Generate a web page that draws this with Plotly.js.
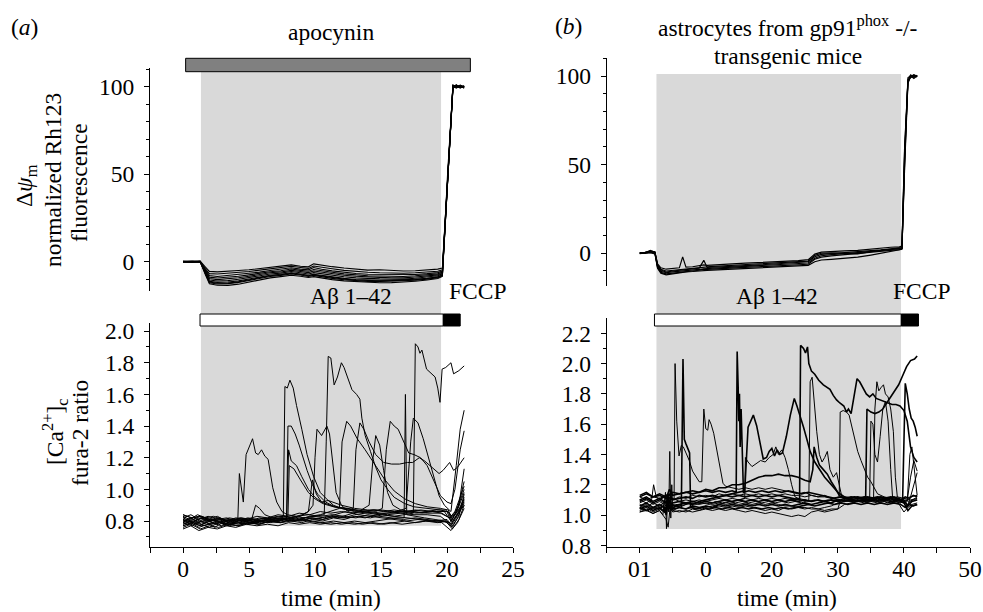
<!DOCTYPE html>
<html>
<head>
<meta charset="utf-8">
<script src="https://cdn.plot.ly/plotly-3.0.1.min.js"></script>
<style>html,body{margin:0;padding:0;background:#fff;}#chart{width:983px;height:612px;}</style>
</head>
<body>
<div id="chart"></div>
<script>
// ---------- DATA ----------
// (a) apocynin: Rh123 (delta psi m), shared time grid (min)
const tApoRh = [0, 0.7, 1.3, 1.7, 2.0, 2.6, 3.4, 4.2, 5.0, 5.8, 6.6, 7.4, 8.2, 8.9, 9.5, 9.9, 10.5, 11.3, 12.2, 13.1, 14.0, 14.9, 15.8, 16.7, 17.6, 18.5, 19.3, 19.65, 20.05, 20.45, 20.7, 21.0, 21.3];
const rhApo1 = [0.3, 0.2, 0.4, -3, -5.5, -5.8, -5.2, -5.0, -4.6, -4.0, -3.4, -2.8, -1.8, -2.6, -2.9, -1.2, -2.0, -2.8, -3.6, -4.2, -4.8, -4.6, -5.0, -5.3, -5.1, -4.7, -4.2, -3.6, 48, 99.5, 100.6, 99.4, 100.2];
const rhApo2 = [0.1, 0.0, 0.2, -4, -6.8, -7.0, -6.6, -6.2, -5.6, -4.8, -4.2, -3.6, -2.6, -3.3, -3.8, -2.4, -3.2, -4.0, -4.9, -5.6, -6.0, -6.3, -6.5, -6.6, -6.3, -5.9, -5.4, -4.6, 46, 100.8, 99.6, 100.9, 99.8];
const rhApo3 = [0, -0.2, 0.1, -4.6, -7.9, -8.4, -7.8, -7.4, -6.8, -5.9, -5.0, -4.4, -3.4, -4.2, -4.6, -3.3, -4.3, -5.2, -6.0, -6.7, -7.1, -7.2, -7.4, -7.6, -7.3, -6.8, -6.2, -5.3, 50, 99.0, 101.2, 99.6, 100.4];
const rhApo4 = [-0.1, 0.1, 0.0, -5, -8.8, -9.3, -8.9, -8.3, -7.5, -6.4, -5.7, -5.1, -4.1, -4.9, -5.4, -4.4, -5.2, -6.0, -6.9, -7.5, -8.0, -8.1, -8.3, -8.4, -8.0, -7.5, -6.9, -5.9, 44, 100.2, 99.2, 100.5, 99.1];
const rhApo5 = [0.2, -0.1, 0.3, -5.5, -9.6, -10.2, -9.8, -9.1, -8.3, -7.1, -6.3, -5.8, -4.9, -5.6, -6.2, -5.3, -6.0, -6.9, -7.7, -8.3, -8.8, -8.9, -9.1, -9.2, -8.7, -8.2, -7.5, -6.4, 49, 101.0, 100.3, 99.7, 100.6];
const rhApo6 = [0, 0.2, -0.1, -6, -10.4, -11.0, -10.8, -10.0, -9.0, -7.9, -7.0, -6.5, -5.6, -6.3, -7.0, -6.2, -6.9, -7.8, -8.6, -9.2, -9.6, -9.8, -9.9, -9.9, -9.4, -8.8, -8.0, -6.9, 47, 99.3, 100.7, 100.1, 99.5];
const rhApo7 = [-0.2, 0, 0.1, -6.4, -11.2, -11.8, -11.6, -10.9, -9.8, -8.6, -7.7, -7.1, -6.3, -7.0, -7.7, -7.1, -7.8, -8.7, -9.5, -10.1, -10.5, -10.6, -10.6, -10.5, -10.0, -9.4, -8.6, -7.4, 45, 100.4, 99.8, 100.8, 100.0];
const rhApo8 = [0.1, -0.1, 0.2, -7, -12.0, -12.7, -12.5, -11.8, -10.6, -9.4, -8.4, -7.8, -7.0, -7.6, -8.4, -7.8, -8.6, -9.5, -10.3, -10.8, -11.2, -11.3, -11.2, -11.0, -10.6, -9.9, -9.1, -7.8, 51, 99.7, 100.2, 99.3, 100.3];
const rhApo9 = [0, 0.1, 0, -7.5, -12.6, -13.4, -13.5, -12.8, -11.6, -10.2, -9.2, -8.5, -7.7, -8.3, -9.0, -8.5, -9.3, -10.2, -10.9, -11.4, -11.8, -12.0, -11.9, -11.6, -11.1, -10.4, -9.6, -8.3, 46, 100.6, 99.5, 100.4, 99.6];
const rhApo10 = [0.2, 0.1, 0.1, -6.8, -11.6, -12.3, -12.2, -11.5, -10.3, -9.0, -8.0, -7.4, -6.6, -7.3, -8.0, -7.4, -8.1, -9.0, -9.9, -10.4, -10.8, -10.9, -10.8, -10.7, -10.2, -9.6, -8.8, -7.6, 48, 100.1, 100.9, 99.9, 100.0];

// (b) gp91phox -/- : Rh123, shared time grid (min)
const tKoRh = [0, 0.8, 1.6, 2.3, 2.7, 3.2, 4.0, 5.0, 6.0, 6.5, 7.0, 8.0, 9.0, 9.7, 10.2, 11, 12, 14, 16, 18, 20, 22, 24, 25.5, 26.5, 27.5, 29, 31, 33, 35, 36.5, 38, 39.3, 39.7, 40.1, 40.6, 41.0, 41.5, 42.0];
const rhKo1 = [0.3, 0.5, 1.2, 0.8, -6, -8.2, -9.0, -8.6, -8.2, -2.0, -7.8, -7.6, -7.2, -6.5, -6.8, -6.7, -6.4, -6.0, -5.6, -5.3, -4.8, -4.5, -4.2, -3.6, -0.5, 0.6, 1.0, 1.3, 1.6, 2.4, 3.0, 3.4, 3.6, 4.0, 60, 97, 99.6, 100.8, 99.8];
const rhKo2 = [0, 0.2, 0.8, 0.3, -7, -9.5, -10.6, -10.0, -9.6, -9.4, -9.2, -8.9, -8.4, -4.0, -8.0, -7.9, -7.8, -7.4, -7.0, -6.6, -6.2, -5.8, -5.4, -4.8, -2.0, -0.6, -0.2, 0.3, 0.9, 1.4, 1.9, 2.5, 2.9, 3.2, 55, 96, 100.3, 99.2, 100.4];
const rhKo3 = [-0.2, 0.0, 0.5, 0.0, -8, -10.8, -11.6, -11.2, -10.7, -10.4, -10.2, -10.0, -9.6, -9.0, -9.1, -9.0, -8.8, -8.4, -8.0, -7.6, -7.2, -6.9, -6.6, -6.2, -3.4, -2.2, -1.5, -0.9, -0.2, 0.4, 1.0, 1.6, 2.1, 2.6, 50, 98, 99.0, 100.2, 99.5];
const rhKo4 = [0.4, 0.3, 1.6, 0.6, -6.5, -9.0, -10.0, -9.6, -9.1, -8.8, -8.6, -8.4, -8.0, -7.6, -7.5, -7.4, -7.2, -6.8, -6.4, -6.0, -5.6, -5.2, -4.9, -4.4, -1.2, 0.0, 0.2, -0.1, -0.3, 0.9, 1.6, 2.2, 2.6, 3.0, 58, 97, 100.6, 99.8, 100.1];
const rhKo5 = [0.1, -0.1, 0.4, -0.3, -8.5, -11.2, -12.2, -11.6, -11.0, -10.7, -10.5, -10.3, -9.9, -9.5, -9.6, -9.5, -9.3, -9.0, -8.6, -8.2, -7.8, -7.5, -7.2, -6.8, -4.8, -3.8, -3.4, -3.0, -2.2, -1.0, 0.0, 0.8, 1.6, 2.2, 52, 99, 100.1, 98.6, 100.2];
const rhKo6 = [0, 0.4, 0.9, 0.5, -7.5, -10.2, -11.0, -10.5, -10.1, -9.9, -9.7, -9.5, -9.2, -8.6, -8.6, -8.4, -8.2, -7.8, -7.5, -7.1, -6.7, -6.4, -6.1, -5.5, -2.8, -1.4, -0.8, -0.4, 0.4, 1.1, 1.5, 2.0, 2.4, 2.7, 48, 96, 99.4, 100.5, 99.9];

// (a) apocynin: [Ca2+]c fura-2 ratio, [time, ratio]
const caApoA = [[0,0.80],[0.6,0.82],[1.2,0.79],[1.8,0.81],[2.5,0.78],[3.1,0.80],[3.8,0.79],[4.5,0.81],[5.3,0.80],[6.1,0.82],[7.0,0.81],[7.9,0.82],[8.8,0.80],[9.7,0.82],[10.6,0.81],[11.5,0.83],[12.4,0.82],[13.3,0.83],[14.2,0.82],[15.1,0.84],[16.0,0.83],[16.9,0.84],[17.45,0.85],[17.6,1.92],[17.8,1.90],[17.95,1.86],[18.1,1.88],[18.45,1.76],[18.8,1.73],[19.1,1.71],[19.3,1.64],[19.47,1.55],[19.63,1.76],[19.9,1.77],[20.3,1.80],[20.5,1.73],[20.9,1.75],[21.3,1.78]];
const caApoB = [[0,0.83],[0.5,0.81],[1.1,0.84],[1.7,0.82],[2.3,0.83],[3.0,0.81],[3.7,0.80],[4.4,0.82],[5.2,0.81],[6.0,0.80],[6.8,0.82],[7.6,0.81],[8.4,0.83],[9.2,0.82],[10.0,0.83],[10.7,0.84],[10.85,1.30],[11.0,1.84],[11.2,1.83],[11.45,1.66],[11.7,1.71],[12.0,1.80],[12.2,1.77],[12.5,1.70],[12.8,1.63],[13.15,1.60],[13.4,1.57],[13.55,1.45],[13.8,1.34],[14.2,1.24],[14.6,1.14],[15.0,1.06],[15.5,1.00],[16.0,0.95],[16.8,0.91],[17.5,0.89],[18.5,0.88],[19.5,0.87],[20.0,0.86],[20.3,0.80],[20.7,0.85],[21.3,0.98]];
const caApoC = [[0,0.78],[0.6,0.80],[1.2,0.77],[1.8,0.79],[2.4,0.76],[3.0,0.79],[3.6,0.78],[4.15,0.80],[4.27,1.10],[4.4,1.01],[4.57,0.92],[4.78,1.22],[5.0,1.27],[5.27,1.32],[5.5,1.23],[5.7,1.22],[5.95,1.25],[6.2,1.21],[6.45,1.19],[6.8,1.01],[7.1,0.92],[7.5,0.86],[7.9,0.84],[8.6,0.83],[9.5,0.84],[10.4,0.83],[11.3,0.84],[12.2,0.83],[13.1,0.82],[14.0,0.84],[14.9,0.83],[15.8,0.82],[16.7,0.81],[17.6,0.82],[18.5,0.81],[19.4,0.80],[20.2,0.79],[20.6,0.82],[21.3,0.90]];
const caApoC2 = [[0,0.81],[0.7,0.79],[1.3,0.82],[2.0,0.80],[2.7,0.82],[3.4,0.79],[4.1,0.81],[4.8,0.80],[5.2,0.81],[5.5,0.90],[5.8,0.88],[6.2,0.84],[6.8,0.82],[7.6,0.83],[8.5,0.82],[9.4,0.80],[10.3,0.79],[11.2,0.78],[12.1,0.79],[13.0,0.78],[13.9,0.79],[14.8,0.78],[15.7,0.79],[16.6,0.78],[17.5,0.79],[18.4,0.80],[19.3,0.79],[20.0,0.80],[20.4,0.76],[20.8,0.82],[21.3,0.93]];
const caApoD = [[0,0.82],[0.6,0.80],[1.3,0.83],[2.0,0.81],[2.7,0.79],[3.4,0.81],[4.1,0.80],[4.9,0.82],[5.7,0.81],[6.5,0.82],[7.2,0.83],[7.6,0.83],[7.72,1.65],[7.9,1.64],[8.1,1.69],[8.35,1.64],[8.6,1.53],[9.0,1.38],[9.4,1.22],[9.9,1.08],[10.4,0.98],[11.0,0.93],[12.0,0.90],[13.0,0.88],[14.0,0.87],[15.0,0.87],[16.0,0.86],[17.0,0.86],[18.0,0.87],[19.0,0.86],[19.8,0.86],[20.3,0.80],[20.7,0.86],[21.3,1.00]];
const caApoE = [[0,0.79],[0.7,0.81],[1.4,0.78],[2.1,0.80],[2.8,0.82],[3.5,0.79],[4.2,0.78],[5.0,0.80],[5.8,0.79],[6.6,0.81],[7.3,0.80],[7.85,0.82],[7.95,1.40],[8.2,1.40],[8.5,1.35],[8.8,1.28],[9.1,1.20],[9.4,1.12],[9.8,1.03],[10.2,0.97],[10.8,0.92],[11.5,0.89],[12.5,0.87],[13.5,0.86],[14.5,0.85],[15.5,0.84],[16.5,0.85],[17.5,0.84],[18.5,0.84],[19.5,0.83],[20.3,0.78],[20.8,0.85],[21.3,0.95]];
const caApoF = [[0,0.77],[0.6,0.79],[1.2,0.76],[1.9,0.78],[2.6,0.80],[3.3,0.77],[4.0,0.79],[4.8,0.78],[5.6,0.80],[6.4,0.79],[7.2,0.81],[7.85,0.82],[8.0,1.25],[8.2,1.18],[8.6,1.15],[9.0,1.08],[9.5,1.00],[10.0,0.95],[10.5,0.92],[11.5,0.89],[12.5,0.88],[13.5,0.86],[14.5,0.87],[15.5,0.86],[16.5,0.85],[17.5,0.86],[18.5,0.85],[19.5,0.85],[20.2,0.82],[20.6,0.84],[21.3,0.92]];
const caApoF2 = [[0,0.80],[0.8,0.78],[1.5,0.81],[2.2,0.79],[2.9,0.77],[3.6,0.80],[4.4,0.79],[5.2,0.81],[6.0,0.80],[6.8,0.81],[7.5,0.82],[7.95,0.83],[8.05,1.15],[8.4,1.13],[8.9,1.06],[9.5,0.98],[10.0,0.94],[10.6,0.91],[11.4,0.89],[12.3,0.88],[13.2,0.87],[14.1,0.86],[15.0,0.85],[15.9,0.85],[16.8,0.86],[17.7,0.85],[18.6,0.86],[19.5,0.86],[20.1,0.86],[20.4,0.79],[20.8,0.84],[21.3,0.91]];
const caApoG = [[0,0.76],[0.6,0.78],[1.3,0.75],[2.0,0.77],[2.7,0.76],[3.4,0.78],[4.1,0.77],[4.9,0.79],[5.7,0.78],[6.5,0.80],[7.3,0.79],[8.1,0.81],[8.9,0.83],[9.5,0.86],[9.85,0.90],[10.0,1.20],[10.15,1.38],[10.5,1.34],[10.9,1.40],[11.1,1.35],[11.3,1.20],[11.6,0.98],[12.0,0.90],[12.5,0.86],[13.3,0.84],[14.2,0.83],[15.1,0.82],[16.0,0.81],[16.9,0.80],[17.8,0.81],[18.7,0.80],[19.6,0.79],[20.3,0.74],[20.8,0.79],[21.3,0.88]];
const caApoBump = [[0,0.79],[0.7,0.77],[1.4,0.80],[2.1,0.78],[2.8,0.79],[3.5,0.77],[4.2,0.79],[5.0,0.78],[5.8,0.80],[6.6,0.79],[7.4,0.80],[8.2,0.82],[9.0,0.84],[9.5,0.86],[9.8,1.06],[10.1,0.97],[10.5,0.92],[11.0,0.93],[11.4,0.90],[12.0,0.88],[13.0,0.86],[14.0,0.85],[15.0,0.84],[16.0,0.83],[17.0,0.82],[18.0,0.81],[19.0,0.80],[20.0,0.81],[20.4,0.77],[20.9,0.83],[21.3,0.97]];
const caApoH = [[0,0.82],[0.6,0.84],[1.2,0.81],[1.9,0.83],[2.6,0.81],[3.3,0.82],[4.0,0.80],[4.8,0.81],[5.6,0.79],[6.4,0.81],[7.2,0.80],[8.0,0.82],[8.8,0.81],[9.6,0.83],[10.4,0.84],[11.2,0.86],[11.85,0.88],[12.05,1.30],[12.4,1.43],[12.7,1.40],[13.2,1.32],[13.8,1.25],[14.5,1.16],[15.3,1.06],[16.0,0.99],[16.8,0.94],[17.6,0.91],[18.5,0.89],[19.5,0.88],[20.1,0.87],[20.4,0.81],[20.8,0.88],[21.3,1.05]];
const caApoI = [[0,0.81],[0.7,0.79],[1.4,0.82],[2.1,0.80],[2.8,0.81],[3.5,0.80],[4.3,0.82],[5.1,0.81],[5.9,0.80],[6.7,0.82],[7.5,0.81],[8.3,0.80],[9.1,0.82],[9.9,0.83],[10.7,0.82],[11.5,0.84],[12.3,0.86],[12.9,0.88],[13.1,1.25],[13.4,1.42],[13.7,1.38],[14.1,1.30],[14.6,1.22],[15.2,1.17],[15.8,1.16],[16.4,1.16],[17.0,1.17],[17.4,1.17],[17.9,1.20],[18.3,1.18],[18.7,1.15],[19.1,1.12],[19.4,1.10],[19.7,1.12],[19.9,1.14],[20.2,1.17],[20.5,1.12],[20.8,1.14],[21.3,1.20]];
const caApoJ = [[0,0.80],[0.8,0.82],[1.5,0.79],[2.2,0.81],[2.9,0.79],[3.7,0.81],[4.5,0.80],[5.3,0.79],[6.1,0.81],[6.9,0.80],[7.7,0.81],[8.5,0.80],[9.3,0.82],[10.1,0.81],[10.9,0.83],[11.7,0.82],[12.5,0.84],[13.3,0.86],[14.1,0.90],[14.4,1.20],[14.6,1.34],[14.9,1.28],[15.2,1.12],[15.5,0.98],[15.9,0.90],[16.5,0.87],[17.3,0.86],[18.1,0.85],[18.9,0.86],[19.6,0.85],[20.2,0.82],[20.6,0.86],[21.3,1.02]];
const caApoK = [[0,0.78],[0.6,0.80],[1.3,0.78],[2.0,0.76],[2.7,0.79],[3.4,0.78],[4.2,0.80],[5.0,0.79],[5.8,0.78],[6.6,0.80],[7.4,0.79],[8.2,0.81],[9.0,0.80],[9.8,0.82],[10.6,0.81],[11.4,0.83],[12.2,0.82],[13.0,0.84],[13.8,0.85],[14.6,0.86],[15.1,0.88],[15.4,1.25],[15.7,1.43],[16.0,1.40],[16.3,1.38],[16.7,1.30],[17.1,1.23],[17.5,1.22],[18.0,1.20],[18.5,1.15],[19.0,1.05],[19.5,0.96],[20.0,0.92],[20.3,0.91],[20.6,1.00],[21.0,1.25],[21.3,1.37]];
const caApoL = [[0,0.84],[0.7,0.82],[1.4,0.83],[2.1,0.81],[2.8,0.80],[3.5,0.82],[4.2,0.81],[5.0,0.80],[5.8,0.82],[6.6,0.81],[7.4,0.82],[8.2,0.80],[9.0,0.81],[9.8,0.80],[10.6,0.79],[11.4,0.80],[12.2,0.79],[13.0,0.80],[13.8,0.79],[14.6,0.80],[15.4,0.81],[16.2,0.82],[16.75,0.82],[16.85,1.60],[16.95,0.84],[17.5,0.83],[18.3,0.82],[19.1,0.81],[19.8,0.80],[20.3,0.77],[20.7,0.82],[21.3,0.94]];
const caApoM = [[0,0.77],[0.7,0.79],[1.4,0.77],[2.1,0.78],[2.8,0.80],[3.5,0.78],[4.2,0.77],[5.0,0.79],[5.8,0.78],[6.6,0.80],[7.4,0.79],[8.2,0.80],[9.0,0.79],[9.8,0.81],[10.6,0.80],[11.4,0.82],[12.2,0.81],[13.0,0.83],[13.8,0.82],[14.6,0.84],[15.4,0.85],[16.2,0.86],[16.9,0.88],[17.25,1.30],[17.45,1.45],[17.8,1.42],[18.2,1.32],[18.6,1.20],[19.0,1.07],[19.4,0.96],[19.8,0.90],[20.3,0.86],[20.7,1.15],[21.0,1.38],[21.3,1.50]];
const caApoP1 = [[0,0.75],[0.6,0.77],[1.2,0.74],[1.9,0.76],[2.6,0.75],[3.3,0.77],[4.0,0.76],[4.8,0.78],[5.6,0.77],[6.4,0.78],[7.2,0.77],[8.0,0.79],[8.8,0.78],[9.6,0.79],[10.4,0.78],[11.2,0.79],[12.0,0.78],[12.8,0.79],[13.6,0.78],[14.4,0.79],[15.2,0.78],[16.0,0.79],[16.8,0.80],[17.6,0.79],[18.4,0.80],[19.2,0.80],[19.9,0.80],[20.4,0.75],[20.9,0.81],[21.3,0.90]];
const caApoP2 = [[0,0.84],[0.6,0.82],[1.2,0.83],[1.9,0.81],[2.6,0.83],[3.3,0.80],[4.0,0.82],[4.8,0.81],[5.6,0.83],[6.4,0.82],[7.2,0.84],[8.0,0.83],[8.8,0.85],[9.6,0.84],[10.4,0.86],[11.2,0.85],[12.0,0.86],[12.8,0.85],[13.6,0.86],[14.4,0.87],[15.2,0.86],[16.0,0.87],[16.8,0.86],[17.6,0.87],[18.4,0.86],[19.2,0.87],[19.9,0.87],[20.4,0.83],[20.9,0.90],[21.3,1.13]];

// (b) gp91phox -/- : [Ca2+]c fura-2 ratio, [time, ratio]
const caKoA = [[0,1.10],[1,1.12],[2,1.09],[3,1.11],[4,1.08],[4.4,1.14],[5,1.10],[6,1.11],[7,1.12],[8,1.11],[9,1.13],[10,1.12],[11,1.13],[12,1.12],[13,1.13],[14,1.12],[15,1.13],[16,1.12],[17,1.13],[18,1.12],[19,1.13],[20,1.12],[21,1.13],[22,1.12],[23,1.11],[24.2,1.10],[24.35,2.12],[24.8,2.10],[25.1,2.07],[25.4,2.11],[25.6,2.0],[26.0,1.95],[26.5,1.93],[27.1,1.89],[27.8,1.86],[28.4,1.84],[28.8,1.83],[29.3,1.79],[29.8,1.76],[30.3,1.74],[30.9,1.72],[31.3,1.68],[31.6,1.70],[32.0,1.67],[32.5,1.80],[32.9,1.90],[33.3,1.88],[33.8,1.84],[34.3,1.80],[34.8,1.78],[35.3,1.80],[35.8,1.77],[36.4,1.76],[37.0,1.75],[37.6,1.74],[38.2,1.73],[38.8,1.73],[39.4,1.72],[40.0,1.69],[40.5,1.62],[41.0,1.45],[41.5,1.38],[42.0,1.35]];
const caKoB = [[0,1.04],[1,1.06],[2,1.03],[3,1.05],[3.8,1.02],[4.2,1.08],[5,1.04],[6,1.05],[7,1.04],[8,1.06],[9,1.05],[10,1.06],[11,1.05],[12,1.07],[13,1.06],[14,1.07],[15,1.06],[16,1.07],[17,1.06],[18,1.07],[19,1.06],[20,1.07],[21,1.06],[22,1.07],[23,1.06],[24,1.07],[25,1.08],[26,1.07],[27,1.08],[28,1.09],[29,1.08],[30,1.10],[31,1.09],[32,1.10],[33,1.09],[34.2,1.10],[34.4,1.70],[35.0,1.68],[35.6,1.67],[36.2,1.68],[36.8,1.70],[37.4,1.74],[38.0,1.78],[38.6,1.82],[39.2,1.86],[39.8,1.92],[40.4,1.98],[41.0,2.02],[41.6,2.03],[42.0,2.05]];
const caKoC = [[0,1.08],[1,1.10],[2,1.07],[3,1.09],[4,1.06],[4.6,1.12],[5.2,1.10],[5.35,2.00],[5.6,1.62],[5.95,1.39],[6.3,1.46],[6.6,1.45],[7.0,1.41],[7.5,1.36],[8.0,1.29],[8.5,1.25],[9.0,1.22],[9.4,1.22],[9.7,1.70],[10.0,1.57],[10.3,1.56],[10.5,1.63],[10.8,1.60],[11.2,1.54],[11.7,1.43],[12.2,1.30],[12.6,1.21],[13.0,1.19],[14,1.18],[15,1.17],[16,1.18],[17,1.17],[18,1.18],[19,1.17],[20,1.18],[21,1.17],[22,1.16],[23,1.15],[24,1.14],[25,1.15],[26,1.13],[27,1.12],[28,1.13],[29,1.11],[30,1.10],[31,1.11],[32,1.10],[33,1.11],[34,1.10],[35,1.11],[36,1.10],[37,1.11],[38,1.10],[39,1.11],[40,1.09],[40.5,1.07],[41,1.09],[42,1.12]];
const caKoD = [[0,1.05],[1,1.03],[2,1.05],[3,1.04],[3.6,1.06],[4.0,1.00],[4.3,1.12],[4.8,1.04],[5.5,1.06],[6.3,1.05],[6.55,2.03],[6.75,1.50],[7.0,1.47],[7.3,1.44],[7.55,1.41],[7.7,1.05],[8.5,1.04],[9.5,1.05],[10.5,1.04],[11.5,1.05],[12.5,1.04],[13.5,1.05],[14.5,1.04],[15.5,1.05],[16.5,1.04],[17.5,1.05],[18.5,1.04],[19.5,1.05],[20.5,1.04],[21.5,1.05],[22.5,1.04],[23.5,1.05],[24.5,1.06],[25.5,1.07],[26.5,1.06],[27.5,1.07],[28.5,1.08],[29.5,1.07],[30.5,1.08],[31.5,1.07],[32.5,1.08],[33.5,1.07],[34.5,1.08],[35.5,1.07],[36.5,1.08],[37.5,1.07],[38.5,1.08],[39.5,1.07],[40.2,1.05],[40.8,1.07],[41.4,1.06],[42,1.07]];
const caKoE = [[0,1.12],[1,1.14],[2,1.12],[3,1.13],[4,1.11],[4.5,1.17],[5,1.13],[6,1.14],[7,1.15],[8,1.14],[9,1.15],[10,1.16],[11,1.15],[12,1.16],[13,1.15],[14,1.16],[14.6,1.15],[14.75,2.08],[14.9,1.85],[15.0,1.62],[15.1,1.80],[15.2,1.45],[15.35,1.70],[15.5,1.42],[15.7,1.15],[16.5,1.16],[17.5,1.15],[18.5,1.16],[19.5,1.15],[20.5,1.16],[21.5,1.15],[22.5,1.16],[23.5,1.15],[24.5,1.14],[25.5,1.15],[26.5,1.14],[27.5,1.13],[28.5,1.12],[29.5,1.11],[30.5,1.12],[31.5,1.11],[32.5,1.12],[33.5,1.11],[34.5,1.12],[35.5,1.11],[36.5,1.12],[37.5,1.11],[38.5,1.12],[39.5,1.10],[40.2,1.12],[40.8,1.11],[41.4,1.13],[42,1.12]];
const caKoF = [[0,1.06],[1,1.08],[2,1.05],[3,1.07],[4,1.04],[4.5,1.10],[5,1.06],[6,1.07],[7,1.08],[8,1.07],[9,1.09],[10,1.10],[11,1.11],[12,1.12],[13,1.13],[14,1.14],[15,1.15],[15.9,1.16],[16.4,1.58],[16.8,1.62],[17.2,1.66],[17.7,1.59],[18.2,1.47],[18.7,1.37],[19.2,1.38],[19.6,1.42],[20.0,1.44],[20.4,1.39],[20.8,1.43],[21.2,1.40],[21.6,1.41],[22.2,1.52],[22.8,1.66],[23.4,1.77],[23.8,1.72],[24.1,1.68],[24.4,1.63],[24.8,1.58],[25.3,1.50],[25.8,1.42],[26.5,1.35],[27.2,1.30],[28.0,1.25],[29,1.20],[30,1.15],[31,1.12],[32,1.11],[33,1.12],[34,1.11],[35,1.10],[36,1.11],[37,1.10],[38,1.11],[39,1.10],[40,1.08],[40.6,1.03],[41.2,1.06],[42,1.07]];
const caKoG = [[0,1.02],[1,1.04],[2,1.01],[3,1.03],[4,0.97],[4.3,0.92],[4.6,1.05],[5,1.02],[6,1.03],[7,1.02],[8,1.04],[9,1.03],[10,1.05],[11,1.06],[12,1.07],[13,1.08],[14,1.09],[15,1.10],[15.9,1.11],[16.0,1.38],[16.4,1.35],[17,1.32],[17.6,1.34],[18.3,1.36],[19,1.35],[19.6,1.38],[20.2,1.40],[20.6,1.45],[21.0,1.40],[21.5,1.43],[22.0,1.38],[22.5,1.30],[23.0,1.20],[23.5,1.12],[24.5,1.10],[25.5,1.09],[26.5,1.10],[27.5,1.09],[28.5,1.10],[29.5,1.09],[30.5,1.10],[31.5,1.09],[32.5,1.10],[33.5,1.09],[34.5,1.10],[35.5,1.09],[36.5,1.10],[37.5,1.08],[38.5,1.09],[39.5,1.08],[40.2,1.10],[40.8,1.09],[41.4,1.10],[42,1.10]];
const caKoH = [[0,1.13],[1,1.15],[2,1.12],[3,1.14],[4,1.12],[5,1.15],[6,1.14],[7,1.15],[8,1.16],[9,1.15],[10,1.17],[11,1.16],[12,1.18],[13,1.18],[14,1.20],[15,1.20],[16,1.21],[17,1.23],[18,1.25],[19,1.26],[20,1.26],[21,1.27],[22,1.26],[23,1.26],[24,1.25],[25,1.23],[25.8,1.22],[26.2,1.30],[26.4,1.45],[26.8,1.38],[27.2,1.33],[27.8,1.30],[28.4,1.27],[29,1.22],[29.6,1.18],[30.2,1.13],[31,1.11],[32,1.12],[33,1.11],[34,1.12],[35,1.11],[36,1.12],[37,1.11],[38,1.12],[39,1.11],[40,1.10],[40.6,1.06],[41.2,1.09],[42,1.10]];
const caKoI = [[0,1.07],[1,1.05],[2,1.08],[3,1.06],[4,1.09],[4.8,1.03],[5.5,1.07],[6.5,1.06],[7.5,1.08],[8.5,1.07],[9.5,1.08],[10.5,1.07],[11.5,1.09],[12.5,1.08],[13.5,1.09],[14.5,1.08],[15.5,1.09],[16.5,1.08],[17.5,1.09],[18.5,1.08],[19.5,1.09],[20.5,1.08],[21.5,1.09],[22.5,1.08],[23.5,1.09],[24.5,1.08],[25.6,1.10],[25.8,1.88],[26.1,1.91],[26.4,1.75],[26.8,1.55],[27.2,1.40],[27.6,1.35],[28.0,1.38],[28.4,1.42],[28.8,1.30],[29.3,1.25],[29.8,1.28],[30.2,1.20],[30.6,1.12],[31.5,1.10],[32.5,1.09],[33.5,1.10],[34.5,1.09],[35.5,1.10],[36.5,1.09],[37.5,1.10],[38.5,1.09],[39.5,1.10],[40,1.09],[40.5,1.10],[41,1.25],[41.5,1.36],[42,1.29]];
const caKoJ = [[0,1.12],[1,1.10],[2,1.12],[3,1.11],[4,1.13],[5,1.10],[6,1.12],[7,1.11],[8,1.13],[9,1.12],[10,1.13],[11,1.12],[12,1.14],[13,1.13],[14,1.14],[15,1.13],[16,1.14],[17,1.13],[18,1.14],[19,1.13],[20,1.14],[21,1.13],[22,1.14],[23,1.13],[24,1.13],[25,1.12],[26,1.13],[27,1.12],[28,1.12],[29,1.11],[30.2,1.12],[30.35,1.68],[30.8,1.69],[31.3,1.68],[31.7,1.66],[32.0,1.60],[32.5,1.50],[33.0,1.42],[33.5,1.36],[34.0,1.30],[34.5,1.25],[35.0,1.22],[35.5,1.18],[36,1.14],[37,1.12],[38,1.11],[39,1.12],[40,1.11],[41,1.12],[42,1.13]];
const caKoK = [[0,1.09],[1,1.11],[2,1.08],[3,1.10],[4,1.13],[4.5,1.04],[5,1.08],[6,1.09],[7,1.08],[8,1.09],[9,1.08],[10,1.09],[11,1.08],[12,1.09],[13,1.10],[14,1.09],[15,1.10],[16,1.09],[17,1.10],[18,1.09],[19,1.10],[20,1.09],[21,1.10],[22,1.09],[23,1.10],[24,1.09],[25,1.10],[26,1.09],[27,1.10],[28,1.09],[29,1.10],[30,1.09],[31,1.10],[32,1.09],[33,1.10],[34,1.09],[35,1.10],[36,1.09],[37,1.10],[38,1.09],[39,1.10],[39.8,1.10],[40.0,1.45],[40.2,1.87],[40.5,1.80],[40.8,1.70],[41.1,1.64],[41.4,1.62],[41.7,1.58],[42.0,1.52]];
const caKoL = [[0,1.03],[1,1.05],[2,1.02],[3,1.04],[4,1.01],[4.5,1.09],[5,1.03],[6,1.05],[7,1.04],[8,1.05],[9,1.04],[10,1.06],[11,1.05],[12,1.06],[13,1.05],[14,1.06],[15,1.05],[16,1.06],[17,1.05],[18,1.04],[19,1.03],[20,1.04],[21,1.03],[22,1.05],[23,1.04],[24,1.05],[25,1.04],[26,1.05],[27,1.04],[28,1.05],[29,1.06],[30,1.08],[31,1.09],[32,1.10],[33,1.09],[34,1.10],[35.4,1.10],[35.6,1.70],[35.9,1.88],[36.2,1.82],[36.5,1.84],[36.9,1.86],[37.2,1.80],[37.6,1.78],[38.0,1.70],[38.4,1.55],[38.7,1.25],[39.0,1.12],[39.5,1.10],[40,1.11],[41,1.10],[42,1.11]];
const caKoM = [[0,1.10],[1,1.08],[1.8,1.10],[2.1,1.20],[2.5,1.12],[3,1.10],[4,1.07],[5,1.11],[6,1.09],[7,1.10],[8,1.09],[9,1.10],[10,1.09],[11,1.10],[12,1.11],[13,1.10],[14,1.11],[15,1.10],[16,1.11],[17,1.10],[18,1.11],[19,1.10],[20,1.11],[21,1.10],[22,1.11],[23,1.10],[24,1.11],[25,1.10],[26,1.09],[27,1.10],[28,1.09],[29,1.10],[30,1.09],[31,1.10],[32,1.09],[33,1.10],[34.8,1.09],[35.0,1.62],[35.3,1.60],[35.6,1.40],[36.0,1.35],[36.4,1.52],[36.8,1.70],[37.2,1.75],[37.6,1.62],[38.0,1.30],[38.3,1.10],[39,1.09],[40,1.08],[40.5,1.09],[40.9,1.40],[41.2,1.45],[41.6,1.30],[42.0,1.13]];
const caKoN = [[0,1.02],[1,1.03],[2,1.01],[3,1.03],[3.5,1.00],[3.9,1.15],[4.05,0.91],[4.2,1.10],[4.4,1.02],[4.55,1.42],[4.7,0.98],[4.85,1.20],[5.0,1.03],[6,1.02],[7,1.03],[8,1.02],[9,1.03],[10,1.04],[11,1.03],[12,1.04],[13,1.03],[14,1.04],[15,1.03],[16,1.02],[17,1.03],[18,1.02],[19,1.01],[20,1.02],[21,1.01],[22,1.00],[23,0.99],[24,1.00],[25,0.99],[26,1.02],[27,1.03],[28,1.02],[29,1.03],[30,1.04],[31,1.07],[32,1.08],[33,1.09],[34,1.08],[35,1.09],[36,1.08],[37,1.09],[38,1.08],[39,1.09],[40.0,1.02],[40.4,1.04],[41.0,1.12],[41.5,1.20],[42.0,1.28]];
const caKoO = [[0,1.05],[1,1.07],[2,1.04],[3,1.06],[4,1.05],[5,1.07],[6,1.06],[7,1.07],[8,1.08],[9,1.07],[10,1.08],[11,1.07],[12,1.08],[13,1.07],[14,1.08],[15,1.07],[16,1.08],[17,1.07],[18,1.08],[19,1.07],[20,1.08],[21,1.07],[22,1.06],[23,1.06],[24,1.05],[25,1.05],[26,1.04],[27,1.04],[28,1.03],[29,1.04],[30,1.04],[30.4,1.10],[31,1.11],[32,1.10],[33,1.11],[34,1.10],[35,1.11],[36,1.10],[37,1.11],[38,1.10],[39,1.11],[40,1.09],[40.6,1.05],[41.2,1.07],[42,1.08]];

// axis ticks
const xTickValsA = [0, 5, 10, 15, 20, 25];
const xMinorValsA = [-2.5, 2.5, 7.5, 12.5, 17.5, 22.5];
const xTickValsB = [0, 10, 20, 30, 40, 50];
const xTickTextB = ['01', '0', '20', '30', '40', '50'];
const xMinorValsB = [-5, 5, 15, 25, 35, 45];
const rhTickVals = [0, 50, 100];
const caTickValsA = [0.8, 1.0, 1.2, 1.4, 1.6, 1.8, 2.0];
const caTickValsB = [0.8, 1.0, 1.2, 1.4, 1.6, 1.8, 2.0, 2.2];

// ---------- FIGURE ----------
const W = 983, H = 612;
const px = v => v / W;
const py = v => 1 - v / H;
const serif = '"Liberation Serif", "Times New Roman", Times, serif';
const FS = 23.5;

function pairTrace(pairs, xa, ya, w) {
  return {type: 'scatter', mode: 'lines', x: pairs.map(p => p[0]), y: pairs.map(p => p[1]),
    xaxis: xa, yaxis: ya, line: {color: '#000', width: w}, hoverinfo: 'skip', showlegend: false};
}
function gridTrace(t, v, xa, ya, w) {
  return {type: 'scatter', mode: 'lines', x: t, y: v, xaxis: xa, yaxis: ya,
    line: {color: '#000', width: w}, hoverinfo: 'skip', showlegend: false};
}

const traces = [];
[rhApo1, rhApo2, rhApo3, rhApo4, rhApo5, rhApo6, rhApo7, rhApo8, rhApo9, rhApo10]
  .forEach(v => traces.push(gridTrace(tApoRh, v, 'x2', 'y2', 1.1)));
[rhKo1, rhKo2, rhKo3, rhKo4, rhKo5, rhKo6]
  .forEach(v => traces.push(gridTrace(tKoRh, v, 'x4', 'y4', 1.2)));
[caApoP1, caApoP2, caApoC2, caApoBump, caApoF, caApoF2, caApoE, caApoG, caApoL, caApoJ, caApoH, caApoI, caApoK, caApoM, caApoC, caApoD, caApoB, caApoA]
  .forEach(p => traces.push(pairTrace(p, 'x', 'y', 1.0)));
[caKoO, caKoN, caKoL, caKoM, caKoI, caKoJ, caKoG, caKoC]
  .forEach(p => traces.push(pairTrace(p, 'x3', 'y3', 1.0)));
[caKoH, caKoB, caKoD, caKoE, caKoF, caKoK, caKoA]
  .forEach(p => traces.push(pairTrace(p, 'x3', 'y3', 1.6)));

const axBase = {
  showline: true, linecolor: '#000', linewidth: 1, ticks: 'outside', ticklen: 5, tickwidth: 1,
  tickcolor: '#000', showgrid: false, zeroline: false, fixedrange: true,
  tickfont: {family: serif, size: FS, color: '#000'}
};
const domXA = [px(150), px(513)];
const domXB = [px(606.7), px(970)];
const minorY = d => ({dtick: d, tick0: 0, ticks: 'outside', ticklen: 3, tickcolor: '#000', showgrid: false});
const minorX = vals => ({tickmode: 'array', tickvals: vals, ticks: 'outside', ticklen: 5, tickcolor: '#000', showgrid: false});

const layout = {
  width: W, height: H,
  margin: {l: 0, r: 0, t: 0, b: 0},
  paper_bgcolor: '#fff', plot_bgcolor: 'rgba(0,0,0,0)',
  showlegend: false,
  font: {family: serif, size: FS, color: '#000'},
  xaxis: Object.assign({}, axBase, {domain: domXA, range: [-2.5, 25], anchor: 'y',
    tickmode: 'array', tickvals: xTickValsA, ticklabelstandoff: -4, minor: minorX(xMinorValsA)}),
  yaxis: Object.assign({}, axBase, {domain: [py(546.7), py(322.7)], range: [0.638, 2.053], anchor: 'x',
    tickmode: 'array', tickvals: caTickValsA, ticktext: caTickValsA.map(v => v.toFixed(1)), ticklabelstandoff: 5,
    minor: minorY(0.1)}),
  xaxis2: {domain: domXA, range: [-2.5, 25], anchor: 'y2', visible: false, fixedrange: true},
  yaxis2: Object.assign({}, axBase, {domain: [py(291), py(68)], range: [-16.7, 110.7], anchor: 'x2',
    tickmode: 'array', tickvals: rhTickVals, ticklabelstandoff: 5, minor: minorY(10)}),
  xaxis3: Object.assign({}, axBase, {domain: domXB, range: [-5, 50], anchor: 'y3',
    tickmode: 'array', tickvals: xTickValsB, ticktext: xTickTextB, ticklabelstandoff: -4, minor: minorX(xMinorValsB)}),
  yaxis3: Object.assign({}, axBase, {domain: [py(546.7), py(318.3)], range: [0.791, 2.299], anchor: 'x3',
    tickmode: 'array', tickvals: caTickValsB, ticktext: caTickValsB.map(v => v.toFixed(1)), ticklabelstandoff: 5,
    minor: minorY(0.1)}),
  xaxis4: {domain: domXB, range: [-5, 50], anchor: 'y4', visible: false, fixedrange: true},
  yaxis4: Object.assign({}, axBase, {domain: [py(285.7), py(58.3)], range: [-18.3, 110], anchor: 'x4',
    tickmode: 'array', tickvals: rhTickVals, ticklabelstandoff: 5, minor: minorY(10)}),
  shapes: [
    {type: 'rect', xref: 'x', yref: 'paper', x0: 1.36, x1: 19.55, y0: py(525.7), y1: py(71.7),
      fillcolor: '#d9d9d9', line: {width: 0}, layer: 'below'},
    {type: 'rect', xref: 'x3', yref: 'paper', x0: 2.53, x1: 39.56, y0: py(529), y1: py(74),
      fillcolor: '#d9d9d9', line: {width: 0}, layer: 'below'},
    {type: 'rect', xref: 'x', yref: 'paper', x0: 0.2, x1: 21.77, y0: py(71.7), y1: py(58.3),
      fillcolor: '#808080', line: {color: '#000', width: 1}, layer: 'above'},
    {type: 'rect', xref: 'x', yref: 'paper', x0: 1.29, x1: 19.72, y0: py(326), y1: py(314),
      fillcolor: '#fff', line: {color: '#000', width: 1}, layer: 'above'},
    {type: 'rect', xref: 'x', yref: 'paper', x0: 19.72, x1: 21.0, y0: py(326), y1: py(314),
      fillcolor: '#000', line: {color: '#000', width: 1}, layer: 'above'},
    {type: 'rect', xref: 'x3', yref: 'paper', x0: 2.23, x1: 39.6, y0: py(326), y1: py(314),
      fillcolor: '#fff', line: {color: '#000', width: 1}, layer: 'above'},
    {type: 'rect', xref: 'x3', yref: 'paper', x0: 39.6, x1: 42.2, y0: py(326), y1: py(314),
      fillcolor: '#000', line: {color: '#000', width: 1}, layer: 'above'}
  ],
  annotations: []
};

function ann(text, x, y, opts) {
  layout.annotations.push(Object.assign({text: text, xref: 'paper', yref: 'paper', x: px(x), y: py(y),
    xanchor: 'center', yanchor: 'middle', showarrow: false,
    font: {family: serif, size: FS, color: '#000'}}, opts || {}));
}
ann('(<i>a</i>)', 24, 27);
ann('(<i>b</i>)', 568, 26);
ann('apocynin', 331, 32);
ann('astrocytes from gp91<sup>phox</sup> -/-', 787, 26);
ann('transgenic mice', 788, 56);
ann('Aβ 1–42', 351, 296);
ann('Aβ 1–42', 777, 296);
ann('FCCP', 478, 291);
ann('FCCP', 922, 291);
ann('Δ<i>ψ</i><sub>m</sub>', 26, 186, {textangle: -90});
ann('normalized Rh123', 53, 180, {textangle: -90});
ann('fluorescence', 79, 183, {textangle: -90});
ann('[Ca<sup>2+</sup>]<sub>c</sub>', 55, 432, {textangle: -90});
ann('fura-2 ratio', 80, 433, {textangle: -90});
ann('time (min)', 331, 598);
ann('time (min)', 787, 598);

Plotly.newPlot('chart', traces, layout, {staticPlot: true, displayModeBar: false});
</script>
</body>
</html>
